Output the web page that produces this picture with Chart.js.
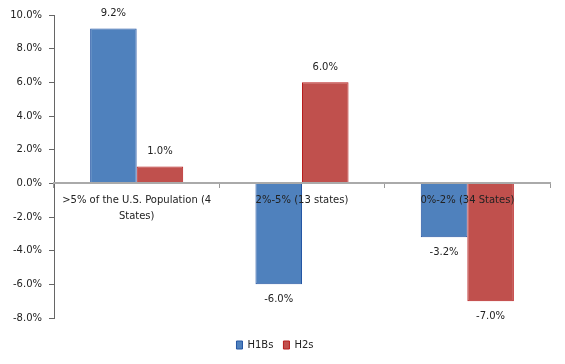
<!DOCTYPE html>
<html>
<head>
<meta charset="utf-8">
<script src="https://cdn.jsdelivr.net/npm/chart.js@4/dist/chart.umd.min.js"></script>
<style>
  html, body { margin: 0; padding: 0; background: #fff; }
  .chart-container { width: 565px; height: 364px; position: relative; }
</style>
</head>
<body>
<div class="chart-container">
  <canvas id="chart"></canvas>
</div>
<script>
const categories = [
  ['>5% of the U.S. Population (4', 'States)'],
  '2%-5% (13 states)',
  '0%-2% (34 States)',
];
const h1bValues = [9.2, -6.0, -3.2];
const h2Values = [1.0, 6.0, -7.0];
const yTicks = { min: -8, max: 10, step: 2 };

const FONT = 'DejaVu Sans';
const fmt = (v) => Number(v).toFixed(1) + '%';

// value labels above positive bars, below negative ones
const valueLabels = {
  id: 'valueLabels',
  afterDatasetsDraw(chart) {
    const ctx = chart.ctx;
    ctx.save();
    ctx.font = '10px "' + FONT + '"';
    ctx.fillStyle = '#222';
    ctx.textAlign = 'center';
    ctx.textBaseline = 'middle';
    chart.data.datasets.forEach((ds, i) => {
      const meta = chart.getDatasetMeta(i);
      meta.data.forEach((bar, j) => {
        const v = ds.data[j];
        const y = v >= 0 ? bar.y - 15 : bar.y + 15;
        ctx.fillText(fmt(v), bar.x, y);
      });
    });
    ctx.restore();
  },
};

const chartData = {
  labels: categories,
  datasets: [
    {
      label: 'H1Bs',
      data: h1bValues,
      backgroundColor: '#4f81bd',
      borderColor: '#2456a4',
      borderWidth: 1,
    },
    {
      label: 'H2s',
      data: h2Values,
      backgroundColor: '#c0504d',
      borderColor: '#b81c1c',
      borderWidth: 1,
    },
  ],
};

const chartOptions = {
  responsive: true,
  maintainAspectRatio: false,
  animation: false,
  layout: { padding: { top: 15, right: 15, left: 0, bottom: 4 } },
  datasets: {
    bar: { categoryPercentage: 0.563, barPercentage: 1 },
  },
  scales: {
    x: {
      position: { y: 0 },
      grid: { offset: true, drawOnChartArea: false, tickLength: 4, color: '#999' },
      border: { color: '#aaa', width: 2, z: 1 },
      ticks: {
        z: 1,
        maxRotation: 0,
        autoSkip: false,
        padding: 5,
        color: '#222',
        font: { family: FONT, size: 10, lineHeight: 1.6 },
      },
    },
    y: {
      min: yTicks.min,
      max: yTicks.max,
      afterFit: (scale) => { scale.width = 54; },
      grid: { drawOnChartArea: false, tickLength: 5, color: '#666' },
      border: { color: '#666', width: 1 },
      ticks: {
        stepSize: yTicks.step,
        padding: 7,
        color: '#222',
        font: { family: FONT, size: 10 },
        callback: (v) => fmt(v),
      },
    },
  },
  plugins: {
    legend: {
      position: 'bottom',
      // empty title only adds space between plot and legend
      title: { display: true, text: ' ', padding: 0, font: { size: 8, lineHeight: 1.5 } },
      labels: {
        boxWidth: 6,
        boxHeight: 8,
        padding: 10,
        color: '#222',
        font: { family: FONT, size: 10 },
      },
    },
    tooltip: { enabled: false },
  },
};

new Chart(document.getElementById('chart'), {
  type: 'bar',
  data: chartData,
  options: chartOptions,
  plugins: [valueLabels],
});
</script>
</body>
</html>
